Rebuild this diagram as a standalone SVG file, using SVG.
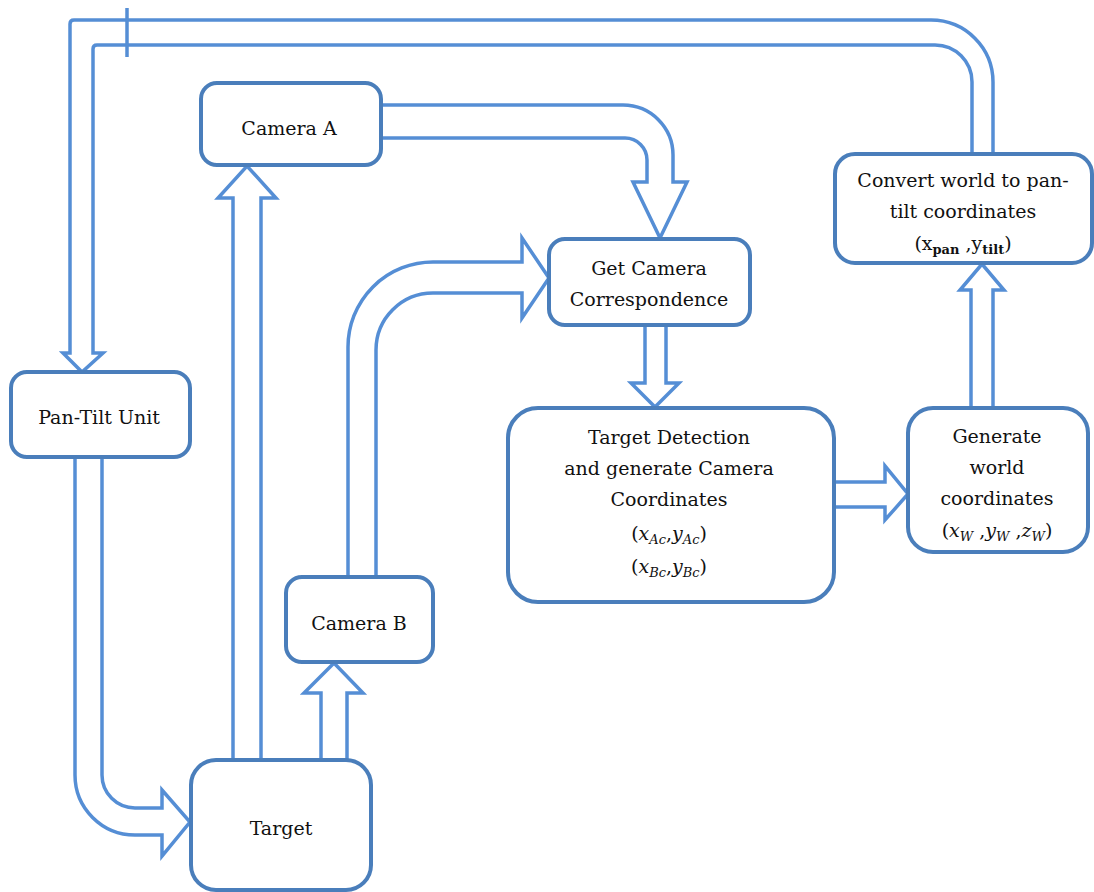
<svg xmlns="http://www.w3.org/2000/svg" width="1094" height="892" viewBox="0 0 1094 892">
<style>
.box{fill:#fff;stroke:#4a7ebb;stroke-width:4}
.arr{fill:#fff;stroke:#558ed5;stroke-width:3.5;stroke-linejoin:miter}
.ln{fill:none;stroke:#558ed5;stroke-width:3.5}
text{font-family:'DejaVu Serif','Liberation Serif',serif;font-size:19px;fill:#111;text-anchor:middle}
.i{font-style:italic}
.s{font-size:13px;font-style:italic}
.b{font-size:13px;font-weight:bold}
</style>
<rect width="1094" height="892" fill="#fff"/>
<g id="connectors">
<path class="arr" d="M75 457 V775 A60 60 0 0 0 135 835 H162 V856 L190 822 L162 790 V808 H135 A33 33 0 0 1 102 775 V457"/>
<path class="arr" d="M233 760 V198 H218 L247 166 L276 198 H261 V760"/>
<path class="arr" d="M321 760 V693 H304 L334 663 L363 693 H347 V760"/>
<path class="arr" d="M348 577 V347 A85 85 0 0 1 433 262 H522 V238 L549 278 L522 318 V293 H433 A57 57 0 0 0 376 350 V577"/>
<path class="arr" d="M381 105 H623 A50 50 0 0 1 673 155 V182 H687 L660 238 L633 182 H647 V160 A22 22 0 0 0 625 138 H381"/>
<path class="arr" d="M645 325 V383 H631 L655 407 L679 383 H666 V325"/>
<path class="arr" d="M834 482 H885 V466 L908 494 L885 520 V507 H834"/>
<path class="arr" d="M971 408 V290 H960 L982 264 L1004 290 H993 V408"/>
<path class="arr" d="M993 154 V82 A62 62 0 0 0 931 20 H74 Q70 20 70 24 V353 H63 L82 372 L103 353 H93 V49 Q93 45 97 45 H935 A37 37 0 0 1 972 82 V154"/>
<line class="ln" x1="127" y1="8" x2="127" y2="57"/>
</g>
<g id="cameraA"><rect class="box" x="201" y="83" width="180" height="82" rx="16"/><text x="289" y="135">Camera A</text></g>
<g id="getCorrespondence"><rect class="box" x="549" y="239" width="201" height="86" rx="16"/><text x="649" y="275">Get  Camera</text><text x="649" y="306">Correspondence</text></g>
<g id="panTilt"><rect class="box" x="11" y="372" width="179" height="85" rx="16"/><text x="99" y="424">Pan-Tilt Unit</text></g>
<g id="targetDetection"><rect class="box" x="508" y="408" width="326" height="194" rx="30"/>
<text x="669" y="444">Target Detection</text>
<text x="669" y="475">and generate Camera</text>
<text x="669" y="506">Coordinates</text>
<text x="669" y="540">(<tspan class="i">x</tspan><tspan class="s" dy="4">Ac</tspan><tspan dy="-4">,</tspan><tspan class="i">y</tspan><tspan class="s" dy="4">Ac</tspan><tspan dy="-4">)</tspan></text>
<text x="669" y="573">(<tspan class="i">x</tspan><tspan class="s" dy="4">Bc</tspan><tspan dy="-4">,</tspan><tspan class="i">y</tspan><tspan class="s" dy="4">Bc</tspan><tspan dy="-4">)</tspan></text>
</g>
<g id="generateWorld"><rect class="box" x="908" y="408" width="180" height="144" rx="25"/>
<text x="997" y="443">Generate</text>
<text x="997" y="474">world</text>
<text x="997" y="505">coordinates</text>
<text x="997" y="537">(<tspan class="i">x</tspan><tspan class="s" dy="4">W</tspan><tspan dy="-4"> ,</tspan><tspan class="i">y</tspan><tspan class="s" dy="4">W</tspan><tspan dy="-4"> ,</tspan><tspan class="i">z</tspan><tspan class="s" dy="4">W</tspan><tspan dy="-4">)</tspan></text>
</g>
<g id="convert"><rect class="box" x="835" y="154" width="257" height="109" rx="20"/>
<text x="963" y="187">Convert world to pan-</text>
<text x="963" y="218">tilt coordinates</text>
<text x="963" y="250">(x<tspan class="b" dy="4">pan</tspan><tspan dy="-4"> ,y</tspan><tspan class="b" dy="4">tilt</tspan><tspan dy="-4">)</tspan></text>
</g>
<g id="cameraB"><rect class="box" x="286" y="577" width="147" height="85" rx="16"/><text x="359" y="630">Camera B</text></g>
<g id="target"><rect class="box" x="191" y="760" width="180" height="130" rx="25"/><text x="281" y="835">Target</text></g>
</svg>
